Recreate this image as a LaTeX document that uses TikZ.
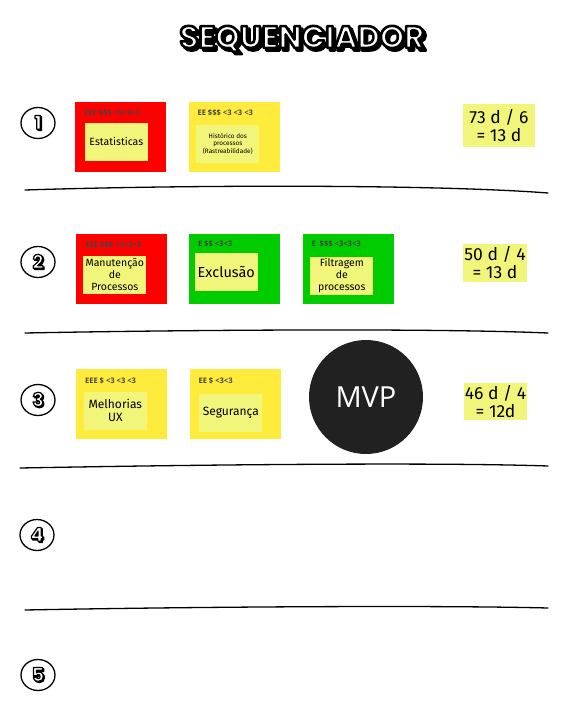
\documentclass[tikz,border=0pt]{standalone}
\usepackage{fontspec}
\setmainfont{Fira Sans}
\newfontfamily\titlefont{Poppins}
\newfontfamily\tagfont{Open Sans}
\newfontfamily\mvpfont{Open Sans}
\usetikzlibrary{positioning, shapes.geometric}

\definecolor{cardred}{HTML}{FF0000}
\definecolor{cardyellow}{HTML}{FFEB3B}
\definecolor{cardgreen}{HTML}{00CC00}
\definecolor{notepad}{HTML}{F1F67A}
\definecolor{mvpdark}{HTML}{212121}
\definecolor{taggray}{HTML}{444444}

% outlined cartoon text: stroke width, shadow, text
\newcommand\toontext[3]{%
  \rlap{\kern#2\lower#2\hbox{\special{pdf:literal direct 2 Tr #1 w 1 j 0 g 0 G}#3}}%
  \special{pdf:literal direct 2 Tr #1 w 1 j 1 g 0 G}#3\special{pdf:literal direct 0 Tr 0 g 0 G}}

\begin{document}
\begin{tikzpicture}[x=1pt,y=-1pt,node distance=113.5pt,on grid,
    card/.style={minimum width=91pt,minimum height=70pt,inner sep=0pt},
    tag/.style={anchor=west,inner sep=0pt,text=taggray,font=\tagfont\bfseries\fontsize{7.6}{8}\selectfont},
    note/.style={fill=notepad,minimum width=63pt,minimum height=38pt,inner sep=1pt,
      align=center,font=\fontsize{10.5}{12}\selectfont},
    estimate/.style={fill=notepad,inner sep=0pt,align=center,font=\fontsize{17.5}{18}\selectfont},
    rowmark/.style={ellipse,draw,line width=1.3pt,minimum width=34pt,minimum height=31pt,inner sep=0pt,
      font=\titlefont\bfseries\fontsize{19}{19}\selectfont},
    sketch/.style={line width=1.3pt,line cap=round}]
  \useasboundingbox (0,0) rectangle (575,709);

  \node[font=\titlefont\bfseries\fontsize{31}{31}\selectfont] (title) at (302,40)
    {\toontext{2.6}{2.6pt}{SEQUENCIADOR}};

  % row marks
  \node[rowmark] (r1) at (38,123) {\toontext{1.2}{1.2pt}{1}};
  \node[rowmark] (r2) at (38,262) {\toontext{1.2}{1.2pt}{2}};
  \node[rowmark] (r3) at (38,400) {\toontext{1.2}{1.2pt}{3}};
  \node[rowmark] (r4) at (37,535) {\toontext{1.2}{1.2pt}{4}};
  \node[rowmark] (r5) at (38,675) {\toontext{1.2}{1.2pt}{5}};

  % separators
  \draw[sketch] (25,190) .. controls (180,185) and (430,184) .. (548,193);
  \draw[sketch] (25,333) .. controls (180,330) and (430,328) .. (548,333);
  \draw[sketch] (20,468) .. controls (180,465) and (430,462) .. (548,466);
  \draw[sketch] (25,610) .. controls (180,607) and (430,605) .. (548,608);

  % row 1
  \node[card,fill=cardred] (estat) at (120.5,137) {};
  \node[card,fill=cardyellow] (hist) [right=of estat] {};
  \node[tag] at ([shift={(9,11)}]estat.north west) {EEE \$\$\$ <3<3<3};
  \node[note] (estatnote) at ([shift={(41.5,40)}]estat.north west) {Estatisticas};
  \node[tag] at ([shift={(9,11)}]hist.north west) {EE \$\$\$ <3 <3 <3};
  \node[note,font=\fontsize{6.4}{7.6}\selectfont] (histnote) at ([shift={(39.5,42)}]hist.north west)
    {Histórico dos\\processos\\(Rastreabilidade)};

  % row 2
  \node[card,fill=cardred] (manut) at (121,269) {};
  \node[card,fill=cardgreen] (excl) [right=of manut] {};
  \node[card,fill=cardgreen] (filtr) [right=of excl] {};
  \node[tag] at ([shift={(10,11)}]manut.north west) {EEE \$\$\$ <3<3<3};
  \node[note] (manutnote) at ([shift={(39.5,41)}]manut.north west) {Manutenção\\de\\Processos};
  \node[tag] at ([shift={(9,10)}]excl.north west) {E \$\$ <3<3};
  \node[note,font=\fontsize{14.5}{15}\selectfont] (exclnote) at ([shift={(37.5,38.5)}]excl.north west) {Exclusão};
  \node[tag] at ([shift={(9,10)}]filtr.north west) {E~~\$\$\$ <3<3<3};
  \node[note] (filtrnote) at ([shift={(39.5,42)}]filtr.north west) {Filtragem\\de\\processos};

  % row 3
  \node[card,fill=cardyellow] (melh) at (121.5,404) {};
  \node[card,fill=cardyellow] (segur) [right=of melh] {};
  \node[tag] at ([shift={(9,12)}]melh.north west) {EEE \$ <3 <3 <3};
  \node[note,font=\fontsize{12}{13}\selectfont] (melhnote) at ([shift={(39.5,42)}]melh.north west) {Melhorias\\UX};
  \node[tag] at ([shift={(9,12)}]segur.north west) {EE \$ <3<3};
  \node[note,font=\fontsize{12}{13}\selectfont] (segurnote) at ([shift={(41.5,44)}]segur.north west) {Segurança};

  \node[circle,fill=mvpdark,minimum size=114pt,inner sep=0pt,text=white,
    font=\mvpfont\fontsize{29}{29}\selectfont] (mvp) at (366,397) {MVP};

  % estimates
  \node[estimate,minimum width=72pt,minimum height=43pt] (est1) at (499,125.5) {73 d / 6\\= 13 d};
  \node[estimate,minimum width=64pt,minimum height=38pt] (est2) at (495,263) {50 d / 4\\= 13 d};
  \node[estimate,minimum width=63pt,minimum height=37pt] (est3) at (495.5,401.5) {46 d / 4\\= 12d};
\end{tikzpicture}
\end{document}
